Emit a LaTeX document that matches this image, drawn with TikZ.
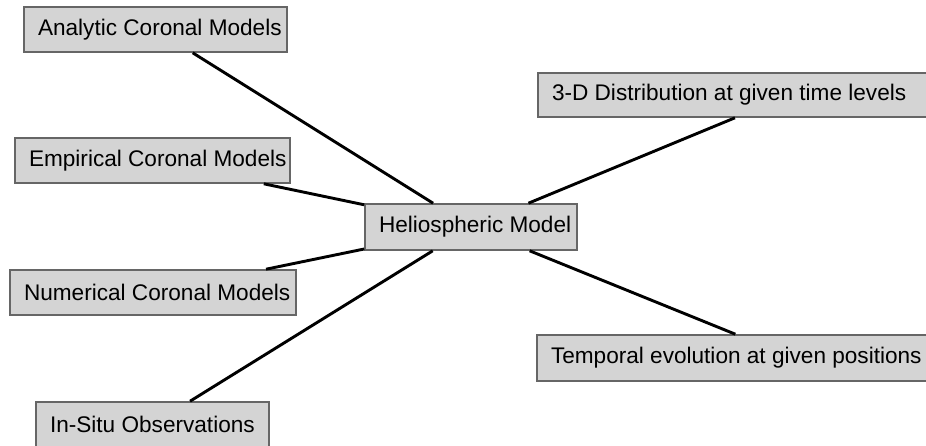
\documentclass[tikz,border=0pt]{standalone}
\usepackage{fontspec}
\setmainfont{Liberation Sans}
\begin{document}
\begin{tikzpicture}[x=1pt,y=-1pt,
  box/.style={draw=black!60, line width=1.6pt, fill=black!17, rectangle,
    inner xsep=0pt, inner ysep=0pt, minimum height=45pt,
    font=\fontsize{22.6}{24}\selectfont},
  link/.style={line width=2.9pt, black}]
\useasboundingbox (0,0) rectangle (926,445);
\newcommand{\lbl}[2]{\hbox to #1pt{\hspace{14pt}#2\hss}}
\node[box] (analytic) at (155.5,29.5) {\lbl{263}{Analytic Coronal Models}};
\node[box] (empirical) at (152.5,160.5) {\lbl{275}{Empirical Coronal Models}};
\node[box] (numerical) at (153,292.5) {\lbl{286}{Numerical Coronal Models}};
\node[box] (insitu) at (152.5,424.5) {\lbl{233}{In-Situ Observations}};
\node[box, minimum height=46pt] (helio) at (471,227) {\lbl{212}{Heliospheric Model}};
\node[box, minimum height=44pt] (dist) at (790,95) {\lbl{504}{3-D Distribution at given time levels}};
\node[box, minimum height=46pt] (temp) at (794,358) {\lbl{514}{Temporal evolution at given positions}};
\draw[link] (analytic) -- (helio);
\draw[link] (empirical) -- (helio);
\draw[link] (numerical) -- (helio);
\draw[link] (insitu) -- (helio);
\draw[link] (dist) -- (helio);
\draw[link] (temp) -- (helio);
\end{tikzpicture}
\end{document}
